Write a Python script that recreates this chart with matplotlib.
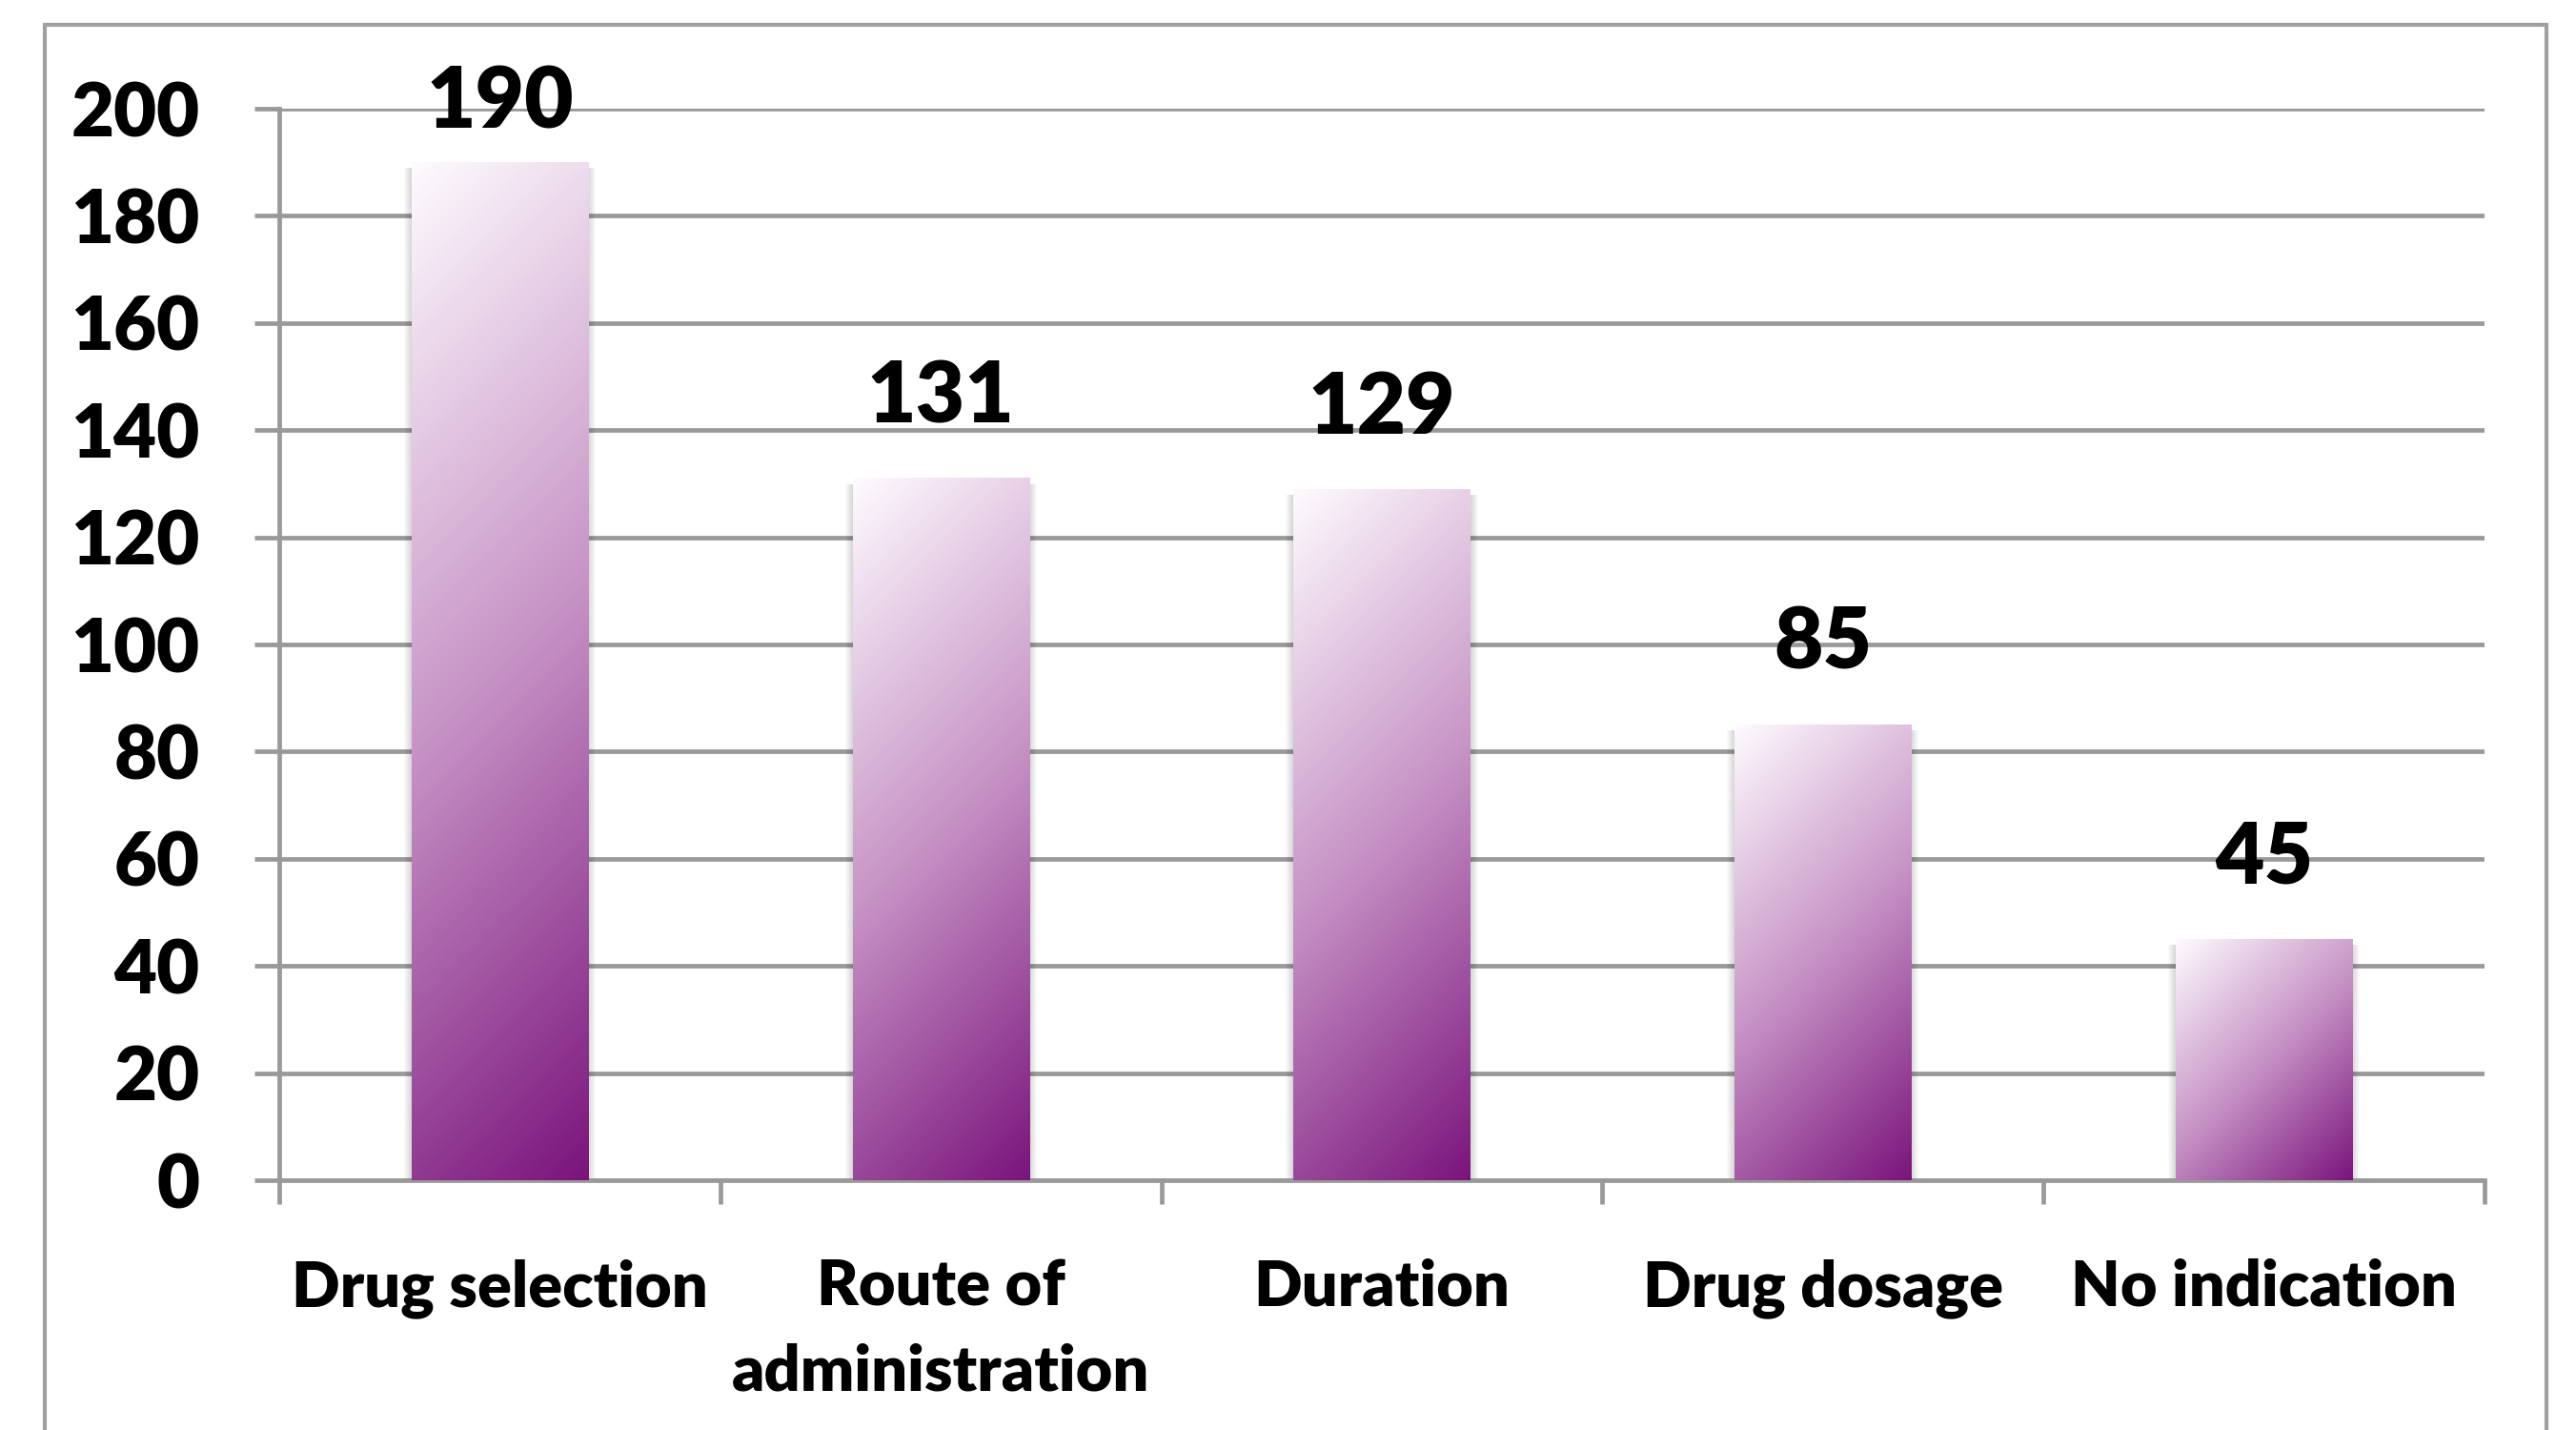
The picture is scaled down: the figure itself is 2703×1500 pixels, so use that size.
import numpy as np
import matplotlib.pyplot as plt
from matplotlib.colors import LinearSegmentedColormap
from matplotlib.patches import Rectangle

categories = ['Drug selection', 'Route of\nadministration', 'Duration', 'Drug dosage', 'No indication']
counts = [190, 131, 129, 85, 45]
y_ticks = list(range(0, 201, 20))

plt.rcParams['font.family'] = ['Lato', 'DejaVu Sans']
plt.rcParams['font.weight'] = 'heavy'

W, H = 2703, 1500
GRID = '#999999'
LW = 3.4
fig = plt.figure(figsize=(W / 100, H / 100), dpi=100)
ax = fig.add_axes([293 / W, 1 - 1238 / H, (2607 - 293) / W, (1238 - 114) / H])
ax.set_xlim(-0.5, 4.5)
ax.set_ylim(0, 200)

# grid, spines and ticks
ax.set_axisbelow(True)
ax.yaxis.grid(True, color=GRID, lw=LW)
for side in ['top', 'right']:
    ax.spines[side].set_visible(False)
for side in ['left', 'bottom']:
    ax.spines[side].set_color(GRID)
    ax.spines[side].set_linewidth(LW)
ax.set_yticks(y_ticks)
ax.tick_params(axis='y', length=19, width=LW, color=GRID, pad=41, labelsize=56)
ax.set_xticks(np.arange(-0.5, 5, 1))
ax.set_xticklabels([])
ax.tick_params(axis='x', which='major', length=18, width=LW, color=GRID)
ax.set_xticks(range(len(categories)), minor=True)
ax.set_xticklabels(categories, minor=True, linespacing=1.55)
ax.tick_params(axis='x', which='minor', length=0, pad=59, labelsize=48)

# bars with a 45 degree gradient (white at top-left, purple at bottom-right)
cmap = LinearSegmentedColormap.from_list('purp', ['#fefbfe', '#c692c5', '#7a147c'])
bar_w = 0.4
bars = ax.bar(range(len(counts)), counts, width=bar_w, color='none', zorder=3)
px_per_x = (2607 - 293) / 5
px_per_y = (1238 - 114) / 200
for rect, v in zip(bars, counts):
    x0 = rect.get_x()
    wp = int(bar_w * px_per_x)
    hp = int(v * px_per_y)
    xx, yy = np.meshgrid(np.arange(wp), np.arange(hp))
    t = (xx + yy) / (wp + hp)
    # soft side shadow
    for k in range(1, 9):
        dx = k / px_per_x
        ax.add_patch(Rectangle((x0 - dx, 0), bar_w + 2 * dx, v - 6 / px_per_y,
                               fc='black', ec='none', alpha=0.018, zorder=2.5))
    ax.imshow(t, cmap=cmap, vmin=0, vmax=1, extent=(x0, x0 + bar_w, 0, v),
              origin='upper', aspect='auto', zorder=3, interpolation='bilinear')
    ax.text(rect.get_x() + bar_w / 2, min(v + 15, 201), str(v), ha='center', va='center',
            fontsize=64, fontweight='heavy', zorder=4)

ax.set_xlim(-0.5, 4.5)
ax.set_ylim(0, 200)

# outer chart frame
fig.add_artist(Rectangle((47 / W, -0.1), (2672 - 47) / W, (1500 - 26) / H + 0.1,
                         transform=fig.transFigure, fill=False, ec='#a0a0a0', lw=3))

fig.savefig('out.png', dpi=100)
